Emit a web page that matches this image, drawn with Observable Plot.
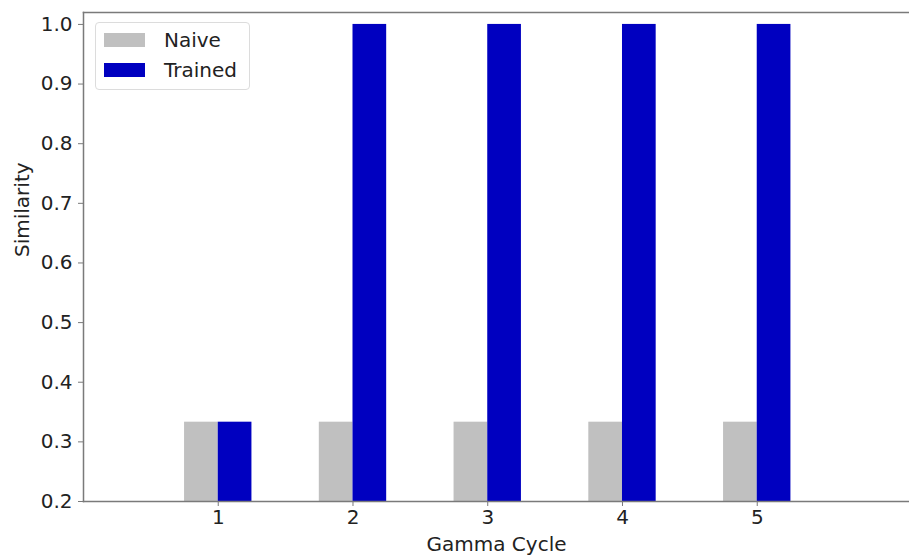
<!DOCTYPE html>
<html>
<head>
<meta charset="utf-8">
<script src="https://cdn.jsdelivr.net/npm/d3@7"></script>
<script src="https://cdn.jsdelivr.net/npm/@observablehq/plot@0.6"></script>
<style>
  html, body { margin: 0; padding: 0; background: #fff; }
  #wrap { position: relative; width: 909px; height: 557px; font-family: "DejaVu Sans", sans-serif; }
  #legend { position: absolute; left: 95px; top: 22px; width: 155px; height: 68px;
            border: 1px solid #dcdcdc; border-radius: 4px; background: rgba(255,255,255,0.85); box-sizing: border-box; }
  .item { position: absolute; left: 8px; display: flex; align-items: center; font-size: 20px; color: #222; line-height: 1; }
  .sw { width: 41px; height: 14px; margin-right: 19px; box-sizing: border-box; }
</style>
</head>
<body>
<div id="wrap"></div>
<script>
// Similarity per gamma cycle for each group
const cycles = [1, 2, 3, 4, 5];
const naive = [0.333, 0.333, 0.333, 0.333, 0.333];
const trained = [0.333, 1.0, 1.0, 1.0, 1.0];
const seriesNames = ["Naive", "Trained"];
const seriesColors = ["#c0c0c0", "#0000c0"];
const yTicks = [0.2, 0.3, 0.4, 0.5, 0.6, 0.7, 0.8, 0.9, 1.0];

const barWidth = 0.25;
const yMin = 0.2;

const rows = [];
cycles.forEach((c, i) => {
  rows.push({series: "Naive", x1: c - barWidth, x2: c, y: naive[i]});
  rows.push({series: "Trained", x1: c, x2: c + barWidth, y: trained[i]});
});

const font = "DejaVu Sans, sans-serif";
const ink = "#222";
const spine = "#7a7a7a";
const fs = 20;

const chart = Plot.plot({
  width: 909,
  height: 557,
  marginLeft: 83,
  marginRight: 0,
  marginTop: 12,
  marginBottom: 56,
  style: {fontFamily: font, fontSize: fs + "px", color: ink, background: "#fff"},
  x: {type: "linear", domain: [0, 6.13]},
  y: {domain: [yMin, 1.02]},
  color: {domain: seriesNames, range: seriesColors},
  marks: [
    Plot.rectY(rows, {x1: "x1", x2: "x2", y1: yMin, y2: "y", fill: "series"}),
    // spines: left, top, bottom
    Plot.frame({anchor: "left", stroke: spine, strokeWidth: 1.5}),
    Plot.frame({anchor: "top", stroke: spine, strokeWidth: 1.5}),
    Plot.frame({anchor: "bottom", stroke: spine, strokeWidth: 1.5}),
    Plot.axisY({ticks: yTicks, tickFormat: d3.format(".1f"), tickSize: 5, tickPadding: 6,
                stroke: spine, fill: ink, fontSize: fs, label: null}),
    Plot.axisX({ticks: cycles, tickFormat: d => String(d), tickSize: 5, tickPadding: 3,
                stroke: spine, fill: ink, fontSize: fs, label: null}),
    Plot.text(["Gamma Cycle"], {frameAnchor: "bottom", dy: 49, fontSize: fs, fill: ink}),
    Plot.text(["Similarity"], {frameAnchor: "left", dx: -61, rotate: -90, fontSize: fs, fill: ink})
  ]
});

const wrap = document.getElementById("wrap");
wrap.appendChild(chart);

// Legend box in the upper-left corner of the axes
const legend = document.createElement("div");
legend.id = "legend";
seriesNames.forEach((name, i) => {
  const item = document.createElement("div");
  item.className = "item";
  item.style.top = (i === 0 ? 7 : 37) + "px";
  const sw = document.createElement("div");
  sw.className = "sw";
  sw.style.background = seriesColors[i];
  const label = document.createElement("span");
  label.textContent = name;
  item.appendChild(sw);
  item.appendChild(label);
  legend.appendChild(item);
});
wrap.appendChild(legend);
</script>
</body>
</html>
